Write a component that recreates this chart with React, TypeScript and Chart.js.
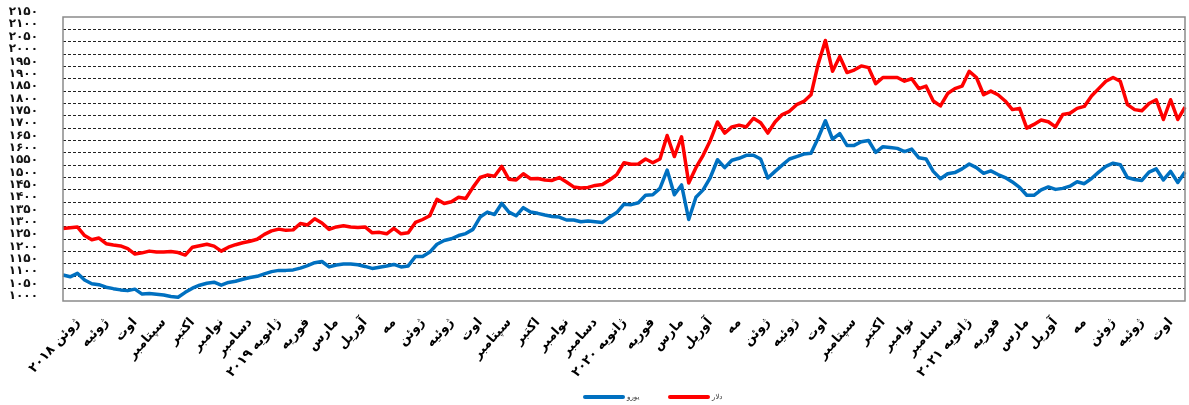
import React, { useEffect, useRef } from "react";
import { Chart, registerables } from "chart.js";

Chart.register(...registerables);

const months = [
  "ژوئن ۲۰۱۸", "ژوئیه", "اوت", "سپتامبر", "اکتبر", "نوامبر", "دسامبر",
  "ژانویه ۲۰۱۹", "فوریه", "مارس", "آوریل", "مه", "ژوئن", "ژوئیه", "اوت", "سپتامبر", "اکتبر", "نوامبر", "دسامبر",
  "ژانویه ۲۰۲۰", "فوریه", "مارس", "آوریل", "مه", "ژوئن", "ژوئیه", "اوت", "سپتامبر", "اکتبر", "نوامبر", "دسامبر",
  "ژانویه ۲۰۲۱", "فوریه", "مارس", "آوریل", "مه", "ژوئن", "ژوئیه", "اوت",
];

// weekly readings (4 per month)
const dollar = [
  1294, 1297, 1300, 1265, 1248, 1255, 1232, 1227, 1223, 1212,
  1190, 1195, 1202, 1198, 1198, 1200, 1196, 1186, 1218, 1224,
  1230, 1222, 1202, 1218, 1228, 1236, 1242, 1250, 1270, 1284,
  1291, 1286, 1288, 1314, 1308, 1333, 1316, 1290, 1300, 1305,
  1300, 1298, 1300, 1276, 1278, 1272, 1294, 1272, 1276, 1318,
  1330, 1345, 1412, 1395, 1402, 1420, 1415, 1460, 1500, 1510,
  1505, 1545, 1493, 1490, 1515, 1495, 1496, 1490, 1488, 1500,
  1482, 1462, 1458, 1460, 1468, 1472, 1490, 1512, 1560, 1554,
  1555, 1575, 1560, 1575, 1670, 1585, 1665, 1478, 1540, 1590,
  1650, 1725, 1680, 1705, 1712, 1705, 1740, 1722, 1680, 1725,
  1755, 1768, 1795, 1808, 1835, 1960, 2055, 1930, 1990, 1925,
  1935, 1952, 1945, 1880, 1905, 1905, 1905, 1890, 1900, 1860,
  1870, 1810, 1790, 1840, 1860, 1870, 1930, 1905, 1835, 1850,
  1835, 1810, 1775, 1780, 1700, 1715, 1733, 1726, 1705, 1755,
  1760, 1780, 1788, 1830, 1860, 1890, 1905, 1890, 1795, 1775,
  1770, 1800, 1815, 1735, 1815, 1735, 1785,
];

const euro = [
  1105, 1098, 1112, 1085, 1070, 1066, 1056, 1050, 1045, 1042,
  1048, 1028, 1030, 1027, 1024, 1018, 1015, 1035, 1052, 1064,
  1072, 1076, 1064, 1075, 1080, 1088, 1095, 1100, 1110, 1119,
  1124, 1124, 1126, 1133, 1143, 1155, 1160, 1138, 1146, 1150,
  1150, 1147, 1140, 1132, 1137, 1142, 1148, 1138, 1142, 1180,
  1180, 1198, 1230, 1245, 1252, 1265, 1273, 1290, 1340, 1360,
  1350, 1395, 1360, 1345, 1378, 1360, 1355, 1348, 1342, 1340,
  1328, 1328, 1321, 1324, 1321, 1318, 1340, 1358, 1392, 1390,
  1398, 1428, 1430, 1456, 1530, 1430, 1470, 1330, 1420, 1450,
  1500, 1572, 1540, 1570, 1578, 1590, 1590, 1575, 1498, 1525,
  1550, 1575, 1585, 1595, 1598, 1660, 1730, 1655, 1678, 1630,
  1630, 1645, 1650, 1602, 1625, 1622, 1618, 1605, 1615, 1580,
  1575, 1525, 1495, 1515, 1520, 1535, 1555, 1540, 1517, 1527,
  1512, 1500, 1482, 1460, 1428, 1428, 1450, 1462, 1452, 1456,
  1465, 1483, 1475, 1496, 1522, 1545, 1558, 1552, 1500, 1492,
  1488, 1522, 1535, 1490, 1525, 1480, 1522,
];

const seriesNames = ["یورو", "دلار"];
const yMin = 1000;
const yMax = 2150;
const yStep = 50;

const persianDigits = "۰۱۲۳۴۵۶۷۸۹";
const toPersian = (v: number | string) =>
  String(v).replace(/\d/g, (d) => persianDigits[Number(d)]);

const labels = euro.map((_, i) =>
  i >= 2 && (i - 2) % 4 === 0 && (i - 2) / 4 < months.length ? months[(i - 2) / 4] : ""
);

const FONT = "'DejaVu Sans', 'Noto Sans', sans-serif";

const frameAndLegend = {
  id: "frameAndLegend",
  afterDatasetsDraw(chart: any) {
    const { ctx, chartArea } = chart;
    ctx.save();
    ctx.strokeStyle = "#8a8a8a";
    ctx.lineWidth = 1.5;
    ctx.setLineDash([]);
    ctx.strokeRect(chartArea.left, chartArea.top, chartArea.right - chartArea.left, chartArea.bottom - chartArea.top);
    ctx.restore();
  },
  afterDraw(chart: any) {
    const { ctx } = chart;
    const starts = [585, 670];
    const y = 397;
    ctx.save();
    chart.data.datasets.forEach((ds: any, i: number) => {
      const x = starts[i];
      ctx.strokeStyle = ds.borderColor;
      ctx.lineWidth = 4;
      ctx.lineCap = "round";
      ctx.beginPath();
      ctx.moveTo(x, y);
      ctx.lineTo(x + 38, y);
      ctx.stroke();
      ctx.fillStyle = "#333";
      ctx.font = `7px ${FONT}`;
      ctx.textAlign = "left";
      ctx.textBaseline = "middle";
      ctx.fillText(ds.label, x + 42, y);
    });
    ctx.restore();
  },
};

export default function App() {
  const ref = useRef<HTMLCanvasElement | null>(null);
  useEffect(() => {
    if (!ref.current) return;
    const chart = new Chart(ref.current, {
      type: "line",
      data: {
        labels,
        datasets: [
          {
            label: seriesNames[0],
            data: euro,
            borderColor: "#0070C0",
            backgroundColor: "#0070C0",
            borderWidth: 3.5,
            pointRadius: 0,
            tension: 0,
            borderJoinStyle: "round",
          },
          {
            label: seriesNames[1],
            data: dollar,
            borderColor: "#FF0000",
            backgroundColor: "#FF0000",
            borderWidth: 3.5,
            pointRadius: 0,
            tension: 0,
            borderJoinStyle: "round",
          },
        ],
      },
      options: {
        animation: false,
        responsive: true,
        maintainAspectRatio: false,
        layout: { padding: { top: 17, right: 4, left: 0, bottom: 0 } },
        plugins: {
          legend: { display: false },
          tooltip: { enabled: false },
        },
        scales: {
          x: {
            type: "category",
            grid: { display: false },
            border: { display: false },
            ticks: {
              autoSkip: false,
              minRotation: 48,
              maxRotation: 48,
              padding: 6,
              color: "#000",
              font: { family: FONT, size: 13, weight: "bold" },
            },
            afterFit: (scale: any) => {
              scale.height = 104;
              scale.paddingLeft = 0;
              scale.paddingRight = 0;
            },
          },
          y: {
            min: yMin,
            max: yMax,
            grid: {
              color: (c: any) =>
                c.tick && (c.tick.value === yMin || c.tick.value === yMax) ? "rgba(0,0,0,0)" : "#222",
              lineWidth: 1,
              drawTicks: false,
            },
            border: { display: false, dash: [3, 2] },
            ticks: {
              stepSize: yStep,
              autoSkip: false,
              padding: 25,
              labelOffset: -5,
              color: "#111",
              font: { family: FONT, size: 12, weight: "bold" },
              callback: (v: any) => toPersian(v),
            },
            afterFit: (scale: any) => {
              scale.width = 63;
              scale.paddingTop = 0;
              scale.paddingBottom = 0;
            },
          },
        },
      },
      plugins: [frameAndLegend],
    });
    return () => chart.destroy();
  }, []);
  return (
    <div style={{ position: "absolute", left: 0, top: 0, width: 1189, height: 405, background: "#fff" }}>
      <canvas ref={ref} />
    </div>
  );
}
